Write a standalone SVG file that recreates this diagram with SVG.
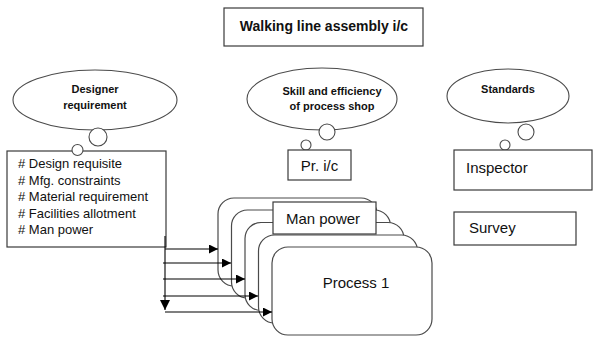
<svg xmlns="http://www.w3.org/2000/svg" width="593" height="338" viewBox="0 0 593 338">
  <defs>
    <style>
      .box { fill: #ffffff; stroke: #3a3a3a; stroke-width: 1.2; }
      .bubble { fill: #ffffff; stroke: #4a4a4a; stroke-width: 1.1; }
      .proc { fill: #ffffff; stroke: #4a4a4a; stroke-width: 1.2; }
      .link { fill: none; stroke: #000000; stroke-width: 1.1; }
      text { font-family: "Liberation Sans", Arial, sans-serif; fill: #111111; }
      .title { font-size: 14px; font-weight: bold; }
      .head { font-size: 11px; font-weight: bold; }
      .lbl { font-size: 15px; }
      .list { font-size: 13px; }
    </style>
    <marker id="arrow" viewBox="0 0 10 10" refX="10" refY="5" markerWidth="9" markerHeight="9" markerUnits="userSpaceOnUse" orient="auto">
      <path d="M0,0 L10,5 L0,10 z" fill="#000000"/>
    </marker>
    <marker id="arrowBig" viewBox="0 0 10 10" refX="10" refY="5" markerWidth="10" markerHeight="10" markerUnits="userSpaceOnUse" orient="auto">
      <path d="M0,0 L10,5 L0,10 z" fill="#000000"/>
    </marker>
  </defs>

  <rect width="593" height="338" fill="#ffffff"/>

  <g id="title">
    <rect class="box" x="224" y="8" width="199" height="38"/>
    <text class="title" x="324" y="31" text-anchor="middle">Walking line assembly i/c</text>
  </g>

  <g id="designer-requirement">
    <ellipse class="bubble" cx="95" cy="100" rx="82" ry="30"/>
    <text class="head" x="95" y="93" text-anchor="middle">Designer</text>
    <text class="head" x="95" y="109" text-anchor="middle">requirement</text>
    <circle class="bubble" cx="98" cy="137" r="9"/>
  </g>

  <g id="design-list">
    <rect class="box" x="7" y="151" width="159" height="96"/>
    <circle class="bubble" cx="77.5" cy="150" r="5.5"/>
    <text class="list" x="18" y="168">
      <tspan x="18" y="168"># Design requisite</tspan>
      <tspan x="18" y="185"># Mfg. constraints</tspan>
      <tspan x="18" y="201"># Material requirement</tspan>
      <tspan x="18" y="218"># Facilities allotment</tspan>
      <tspan x="18" y="234"># Man power</tspan>
    </text>
  </g>

  <g id="skill-efficiency">
    <ellipse class="bubble" cx="322" cy="99" rx="75" ry="31"/>
    <text class="head" x="332" y="95" text-anchor="middle">Skill and efficiency</text>
    <text class="head" x="332" y="110" text-anchor="middle">of process shop</text>
    <circle class="bubble" cx="327" cy="132" r="8"/>
    <circle class="bubble" cx="306" cy="145" r="5"/>
  </g>

  <g id="pr-ic">
    <rect class="box" x="288" y="150" width="63" height="30"/>
    <text class="lbl" x="319.5" y="171" text-anchor="middle">Pr. i/c</text>
  </g>

  <g id="standards">
    <ellipse class="bubble" cx="508" cy="96" rx="61" ry="27"/>
    <text class="head" x="508" y="93" text-anchor="middle">Standards</text>
    <circle class="bubble" cx="526" cy="132" r="8"/>
    <circle class="bubble" cx="505" cy="145" r="5"/>
  </g>

  <g id="inspector">
    <rect class="box" x="454" y="150" width="138" height="40"/>
    <text class="lbl" x="466" y="173">Inspector</text>
  </g>

  <g id="survey">
    <rect class="box" x="454" y="212" width="122" height="33"/>
    <text class="lbl" x="469" y="233">Survey</text>
  </g>

  <g id="process-stack">
    <rect class="proc" x="218" y="198" width="159" height="88" rx="16"/>
    <rect class="proc" x="231.5" y="210" width="159" height="88" rx="16"/>
    <rect class="proc" x="245" y="222.5" width="159" height="88" rx="16"/>
    <g id="man-power">
      <rect class="box" x="273" y="202" width="103" height="32"/>
      <text class="lbl" x="323" y="224" text-anchor="middle">Man power</text>
    </g>
    <rect class="proc" x="258.5" y="235" width="159" height="88" rx="16"/>
    <g id="process-1">
      <rect class="proc" x="272" y="247" width="160" height="88" rx="16"/>
      <text class="lbl" x="356" y="288" text-anchor="middle">Process  1</text>
    </g>
  </g>

  <g id="connectors">
    <line class="link" x1="165" y1="236" x2="165" y2="310" marker-end="url(#arrowBig)"/>
    <line class="link" x1="165" y1="249" x2="218" y2="249" marker-end="url(#arrow)"/>
    <line class="link" x1="163" y1="263" x2="231" y2="263" marker-end="url(#arrow)"/>
    <line class="link" x1="163" y1="279" x2="245" y2="279" marker-end="url(#arrow)"/>
    <line class="link" x1="163" y1="296" x2="258" y2="296" marker-end="url(#arrow)"/>
    <line class="link" x1="165" y1="312" x2="272" y2="312" marker-end="url(#arrow)"/>
  </g>
</svg>
